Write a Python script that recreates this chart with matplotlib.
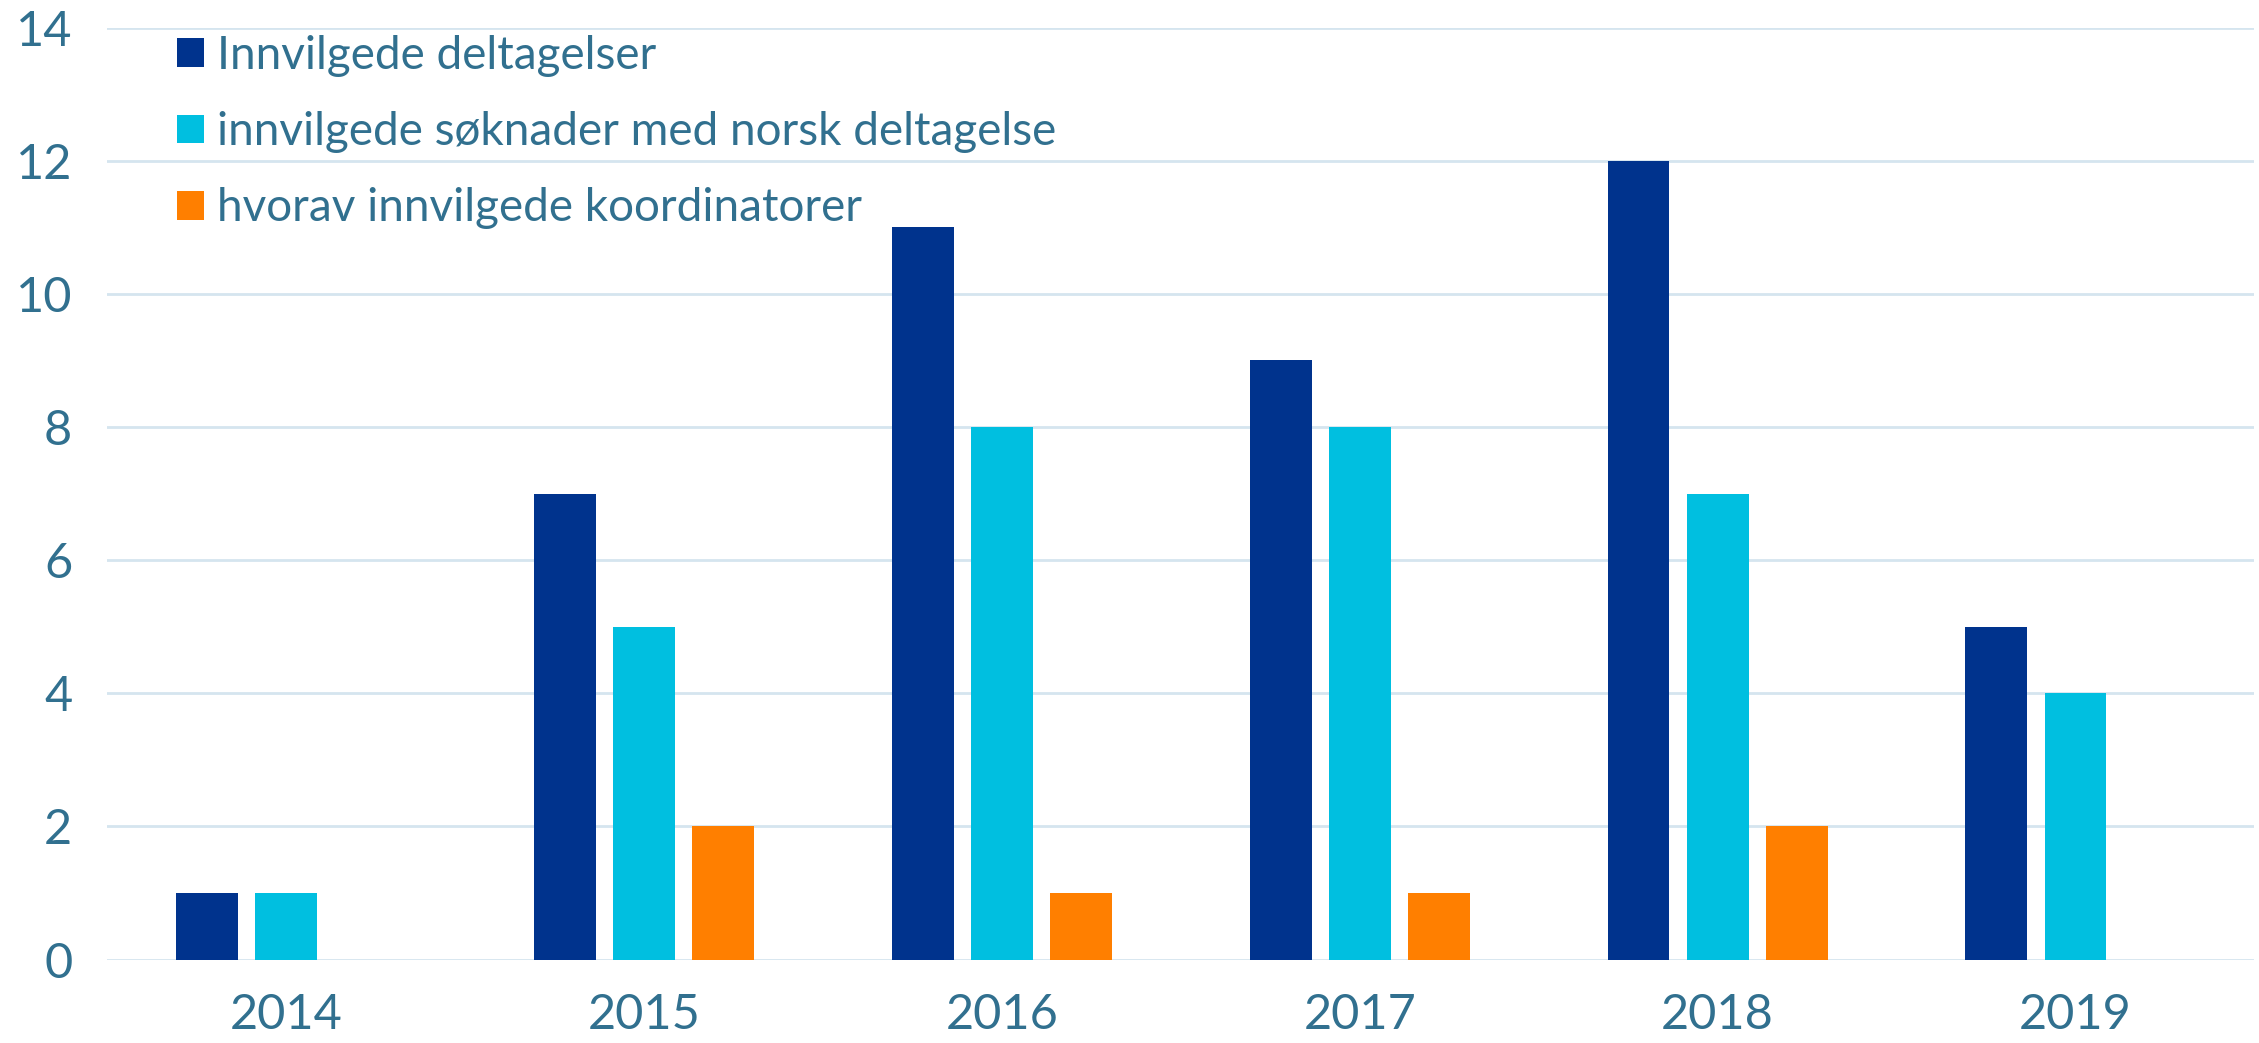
import matplotlib
matplotlib.use("Agg")
from matplotlib import pyplot as plt
import numpy as np

years = ["2014", "2015", "2016", "2017", "2018", "2019"]
deltagelser = [1, 7, 11, 9, 12, 5]
soknader = [1, 5, 8, 8, 7, 4]
koordinatorer = [0, 2, 1, 1, 2, 0]
labels = ["Innvilgede deltagelser",
          "innvilgede søknader med norsk deltagelse",
          "hvorav innvilgede koordinatorer"]
colors = ["#00338D", "#00BFE0", "#FF7F00"]
text_col = "#31708F"

plt.rcParams['font.family'] = ['Lato', 'DejaVu Sans']

fig = plt.figure(figsize=(22.59, 10.43), dpi=100)
ax = fig.add_axes([0.0474, 0.080, 0.9506, 0.8936])

x = np.arange(len(years))
w = 0.173
off = 0.221
series = [deltagelser, soknader, koordinatorer]
for i, (vals, lab, c) in enumerate(zip(series, labels, colors)):
    ax.bar(x + (i - 1) * off, vals, width=w, color=c, label=lab, zorder=3)

ax.set_xlim(-0.5, len(years) - 0.5)
ax.set_ylim(0, 14)
ax.set_yticks(range(0, 15, 2))
ax.set_xticks(x)
ax.set_xticklabels(years)
ax.grid(axis='y', color='#D5E5EF', linewidth=2, zorder=0)
for s in ax.spines.values():
    s.set_visible(False)
ax.tick_params(length=0, labelsize=35, labelcolor=text_col)
ax.tick_params(axis='y', pad=25)
ax.tick_params(axis='x', pad=24)

leg = ax.legend(loc='upper left', bbox_to_anchor=(0.024, 1.012), frameon=False,
                fontsize=33, handlelength=0.58, handleheight=0.58,
                handletextpad=0.3, labelspacing=0.75, borderaxespad=0)
for t in leg.get_texts():
    t.set_color(text_col)

fig.savefig("out.png", dpi=100)
